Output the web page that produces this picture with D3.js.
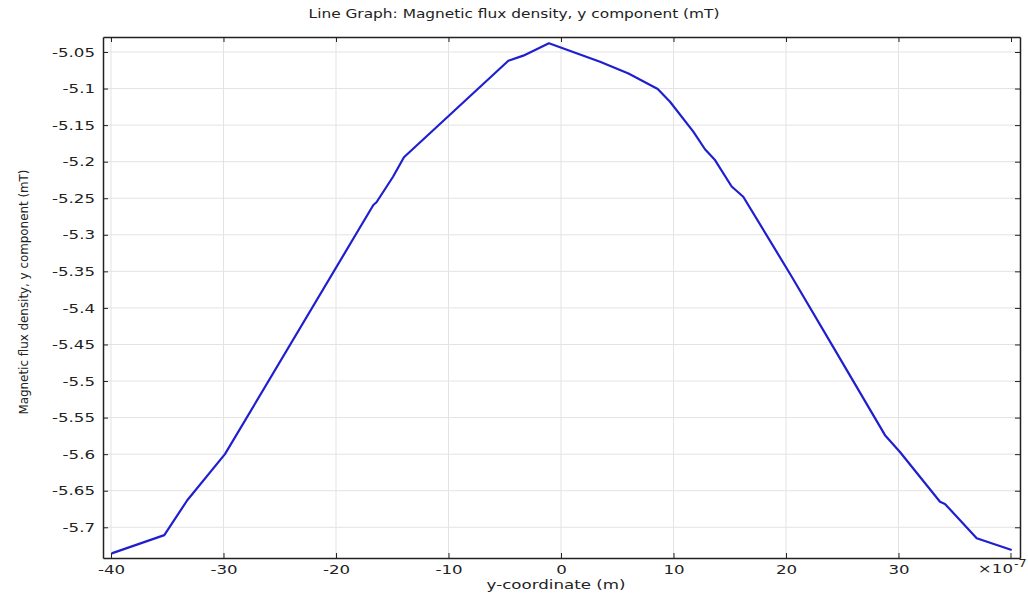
<!DOCTYPE html>
<html>
<head>
<meta charset="utf-8">
<script src="https://cdn.jsdelivr.net/npm/d3@7"></script>
<style>
  body { margin: 0; background: #fff; }
  svg { display: block; }
</style>
</head>
<body>
<div id="chart"></div>
<script>
// y-coordinate in units of 1e-7 m
var xs = [-39.94, -35.26, -33.22, -29.87, -16.68, -16.4, -14.93, -13.96, -4.68, -3.35, -1.07,
          3.47, 6.0, 8.6, 9.69, 11.76, 12.8, 13.69, 15.17, 16.2, 20.5, 24.36, 28.8, 30.13,
          33.69, 34.13, 36.95, 40.06];
// magnetic flux density, y component (mT)
var bys = [-5.7357, -5.7107, -5.663, -5.600, -5.2593, -5.2555, -5.2206, -5.194, -5.0619, -5.055, -5.0381,
           -5.0633, -5.0795, -5.1006, -5.118, -5.159, -5.183, -5.1978, -5.234, -5.248, -5.357, -5.4577, -5.574, -5.597,
           -5.665, -5.668, -5.715, -5.731];
var xTicks = [-40, -30, -20, -10, 0, 10, 20, 30];
var yTicks = [-5.05, -5.1, -5.15, -5.2, -5.25, -5.3, -5.35, -5.4, -5.45, -5.5, -5.55, -5.6, -5.65, -5.7];

var W = 1028, H = 596;
var margin = {top: 37, right: 8, bottom: 38, left: 103};
var width = W - margin.left - margin.right,
    height = H - margin.top - margin.bottom;
var stretch = 1.28;   // the text in the picture is a bit wide

var svg = d3.select("#chart").append("svg")
  .attr("width", W)
  .attr("height", H);

var g = svg.append("g")
  .attr("transform", "translate(" + margin.left + "," + margin.top + ")");

var x = d3.scaleLinear().domain([-40.71, 40.8]).range([0, width]);
var y = d3.scaleLinear().domain([-5.742, -5.0295]).range([height, 0]);

// grid
g.append("g").selectAll("line").data(xTicks).enter().append("line")
  .attr("x1", function(d){ return x(d); }).attr("x2", function(d){ return x(d); })
  .attr("y1", 0).attr("y2", height)
  .attr("stroke", "#e3e3e3").attr("stroke-width", 1);
g.append("g").selectAll("line").data(yTicks).enter().append("line")
  .attr("y1", function(d){ return y(d); }).attr("y2", function(d){ return y(d); })
  .attr("x1", 0).attr("x2", width)
  .attr("stroke", "#e3e3e3").attr("stroke-width", 1);

// axes, ticks pointing inwards
var fmt = function(d){ return String(+d.toFixed(2)); };

var xAxis = g.append("g")
  .attr("transform", "translate(0," + height + ")")
  .call(d3.axisBottom(x).tickValues(xTicks).tickSizeInner(-5).tickSizeOuter(0).tickPadding(7).tickFormat(fmt));
var yAxis = g.append("g")
  .call(d3.axisLeft(y).tickValues(yTicks).tickSizeInner(-5).tickSizeOuter(0).tickPadding(8).tickFormat(fmt));
var xTop = g.append("g")
  .call(d3.axisTop(x).tickValues(xTicks.concat([40])).tickSizeInner(-5).tickSizeOuter(0).tickFormat(""));
var yRight = g.append("g")
  .attr("transform", "translate(" + width + ",0)")
  .call(d3.axisRight(y).tickValues(yTicks).tickSizeInner(-5).tickSizeOuter(0).tickFormat(""));

// tick at 40 on the bottom (label replaced by exponent)
g.append("line")
  .attr("x1", x(40)).attr("x2", x(40)).attr("y1", height).attr("y2", height - 5)
  .attr("stroke", "#222");

[xAxis, yAxis, xTop, yRight].forEach(function(a){
  a.select(".domain").attr("stroke", "#222").attr("stroke-width", 1.5);
  a.selectAll(".tick line").attr("stroke", "#222");
  a.selectAll("text")
    .attr("class", "wide")
    .style("font-family", "'DejaVu Sans', sans-serif")
    .style("font-size", "13px")
    .attr("fill", "#222");
});

// the line
var line = d3.line()
  .x(function(d, i){ return x(xs[i]); })
  .y(function(d){ return y(d); });

g.append("path")
  .datum(bys)
  .attr("fill", "none")
  .attr("stroke", "#1f1fd0")
  .attr("stroke-width", 2.2)
  .attr("stroke-linejoin", "round")
  .attr("d", line);

// exponent label
g.append("text")
  .attr("class", "wide")
  .attr("x", x(40) + 2)
  .attr("y", height + 15)
  .attr("text-anchor", "end")
  .style("font-family", "'DejaVu Sans', sans-serif")
  .style("font-size", "13px")
  .attr("fill", "#222")
  .text("\u00d710");
g.append("text")
  .attr("class", "wide")
  .attr("x", x(40) + 3)
  .attr("y", height + 9)
  .style("font-family", "'DejaVu Sans', sans-serif")
  .style("font-size", "10px")
  .attr("fill", "#222")
  .text("-7");

// title
svg.append("text")
  .attr("class", "wide")
  .attr("x", W / 2)
  .attr("y", 18)
  .attr("text-anchor", "middle")
  .style("font-family", "'DejaVu Sans', sans-serif")
  .style("font-size", "12px")
  .attr("fill", "#222")
  .text("Line Graph: Magnetic flux density, y component (mT)");

// axis labels
svg.append("text")
  .attr("class", "wide")
  .attr("x", 556)
  .attr("y", 589)
  .attr("text-anchor", "middle")
  .style("font-family", "'DejaVu Sans', sans-serif")
  .style("font-size", "13px")
  .attr("fill", "#222")
  .text("y-coordinate (m)");

svg.append("text")
  .attr("transform", "translate(28," + 292 + ") rotate(-90)")
  .attr("text-anchor", "middle")
  .style("font-family", "'DejaVu Sans Condensed', 'DejaVu Sans', sans-serif")
  .style("font-size", "13px")
  .attr("textLength", 245)
  .attr("lengthAdjust", "spacingAndGlyphs")
  .attr("fill", "#222")
  .text("Magnetic flux density, y component (mT)");

// widen the horizontal texts to match the picture
svg.selectAll("text.wide").each(function(){
  var len = this.getComputedTextLength();
  if (len > 0) {
    d3.select(this)
      .attr("textLength", len * stretch)
      .attr("lengthAdjust", "spacingAndGlyphs");
  }
});
</script>
</body>
</html>
